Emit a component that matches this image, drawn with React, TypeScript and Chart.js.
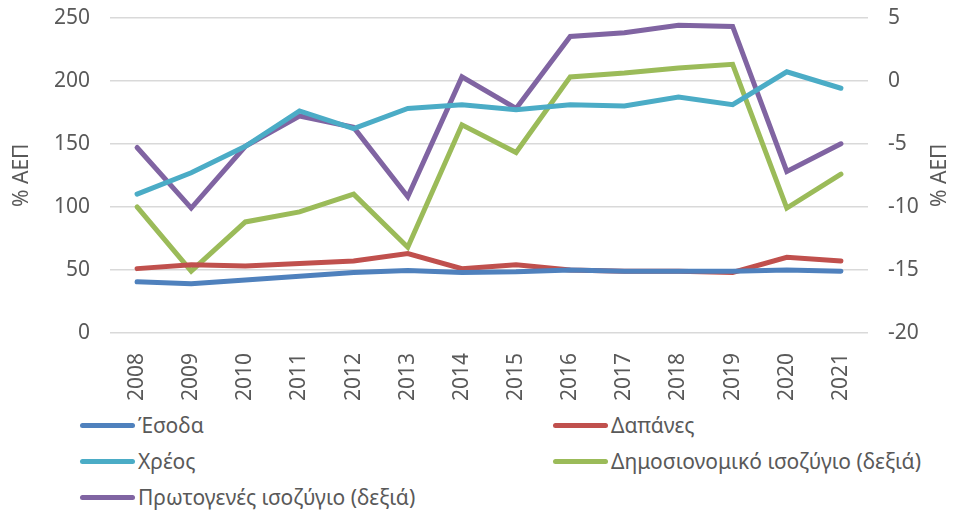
import React, { useEffect, useRef } from "react";
import { Chart, registerables } from "chart.js";

Chart.register(...registerables);

const years = ["2008","2009","2010","2011","2012","2013","2014","2015","2016","2017","2018","2019","2020","2021"];
const revenue = [40.6, 39, 42, 45, 48, 49.5, 48, 48.5, 50, 49, 49, 49, 50, 49];
const expenditure = [51, 54, 53, 55, 57, 63, 51, 54, 50, 49, 49, 48, 60, 57];
const debt = [110, 127, 148, 176, 162, 178, 181, 177, 181, 180, 187, 181, 207, 194];
const fiscalBalance = [-10.0, -15.1, -11.2, -10.4, -9.0, -13.2, -3.5, -5.7, 0.3, 0.6, 1.0, 1.3, -10.1, -7.4];
const primaryBalance = [-5.3, -10.1, -5.2, -2.8, -3.7, -9.2, 0.3, -2.2, 3.5, 3.8, 4.4, 4.3, -7.2, -5.0];
const leftTicks = [0, 50, 100, 150, 200, 250];
const rightTicks = [-20, -15, -10, -5, 0, 5];
const axisTitle = "% ΑΕΠ";

const seriesDefs = [
  { label: "Έσοδα", data: revenue, color: "#4F81BD", axis: "y" },
  { label: "Δαπάνες", data: expenditure, color: "#C0504D", axis: "y" },
  { label: "Χρέος", data: debt, color: "#4BACC6", axis: "y" },
  { label: "Δημοσιονομικό ισοζύγιο (δεξιά)", data: fiscalBalance, color: "#9BBB59", axis: "y1" },
  { label: "Πρωτογενές ισοζύγιο (δεξιά)", data: primaryBalance, color: "#8064A2", axis: "y1" },
];

const FONT = "'Noto Sans', sans-serif";
const TXT = "#595959";

export default function App() {
  const ref = useRef<HTMLCanvasElement | null>(null);
  useEffect(() => {
    if (!ref.current) return;
    const rightTitle = {
      id: "rightTitle",
      afterDraw(chart: any) {
        const { ctx, chartArea } = chart;
        ctx.save();
        ctx.font = `21px ${FONT}`;
        ctx.fillStyle = TXT;
        ctx.textAlign = "center";
        ctx.textBaseline = "middle";
        ctx.translate(chart.width - 11, (chartArea.top + chartArea.bottom) / 2);
        ctx.rotate(-Math.PI / 2);
        ctx.fillText(axisTitle, 0, 0);
        ctx.restore();
      },
    };
    const chart = new Chart(ref.current, {
      type: "line",
      data: {
        labels: years,
        datasets: seriesDefs.map((s) => ({
          label: s.label,
          data: s.data,
          borderColor: s.color,
          backgroundColor: s.color,
          borderWidth: 5,
          pointRadius: 0,
          tension: 0,
          yAxisID: s.axis,
          borderCapStyle: "round",
        })),
      },
      options: {
        animation: false,
        responsive: true,
        maintainAspectRatio: false,
        layout: { padding: { top: 0, right: 0, left: 0, bottom: 0 } },
        plugins: { legend: { display: false }, tooltip: { enabled: false } },
        scales: {
          x: {
            offset: true,
            grid: { display: false },
            border: { display: false },
            ticks: { color: TXT, font: { family: FONT, size: 21 }, maxRotation: 90, minRotation: 90, padding: 12 },
          },
          y: {
            position: "left",
            min: 0,
            max: 250,
            afterBuildTicks: (axis: any) => { axis.ticks = leftTicks.map((v) => ({ value: v })); },
            afterFit: (axis: any) => { axis.width = 102; },
            grid: { color: "#d9d9d9", lineWidth: 1.5, drawTicks: false },
            border: { display: false },
            ticks: { color: TXT, font: { family: FONT, size: 21 }, padding: 20 },
            title: { display: true, text: axisTitle, color: TXT, font: { family: FONT, size: 21 }, padding: 1 },
          },
          y1: {
            position: "right",
            min: -20,
            max: 5,
            afterBuildTicks: (axis: any) => { axis.ticks = rightTicks.map((v) => ({ value: v })); },
            afterFit: (axis: any) => { axis.width = 83; },
            grid: { display: false, drawTicks: false },
            border: { display: false },
            ticks: { color: TXT, font: { family: FONT, size: 21 }, padding: 20 },
          },
        },
      },
      plugins: [rightTitle],
    } as any);
    return () => chart.destroy();
  }, []);

  return (
    <div style={{ fontFamily: FONT }}>
      <div style={{ position: "relative", width: 943, height: 428, marginTop: -23 }}>
        <canvas ref={ref} />
      </div>
      <div
        style={{
          display: "grid",
          gridTemplateColumns: "473px 400px",
          paddingLeft: 72,
          marginTop: -3,
          rowGap: 6,
        }}
      >
        {seriesDefs.map((s) => (
          <div key={s.label} style={{ display: "flex", alignItems: "center", height: 30 }}>
            <span style={{ display: "inline-block", width: 55, height: 5, borderRadius: 3, background: s.color, marginRight: 3 }} />
            <span style={{ fontSize: 21, color: TXT, whiteSpace: "nowrap" }}>{s.label}</span>
          </div>
        ))}
      </div>
    </div>
  );
}
